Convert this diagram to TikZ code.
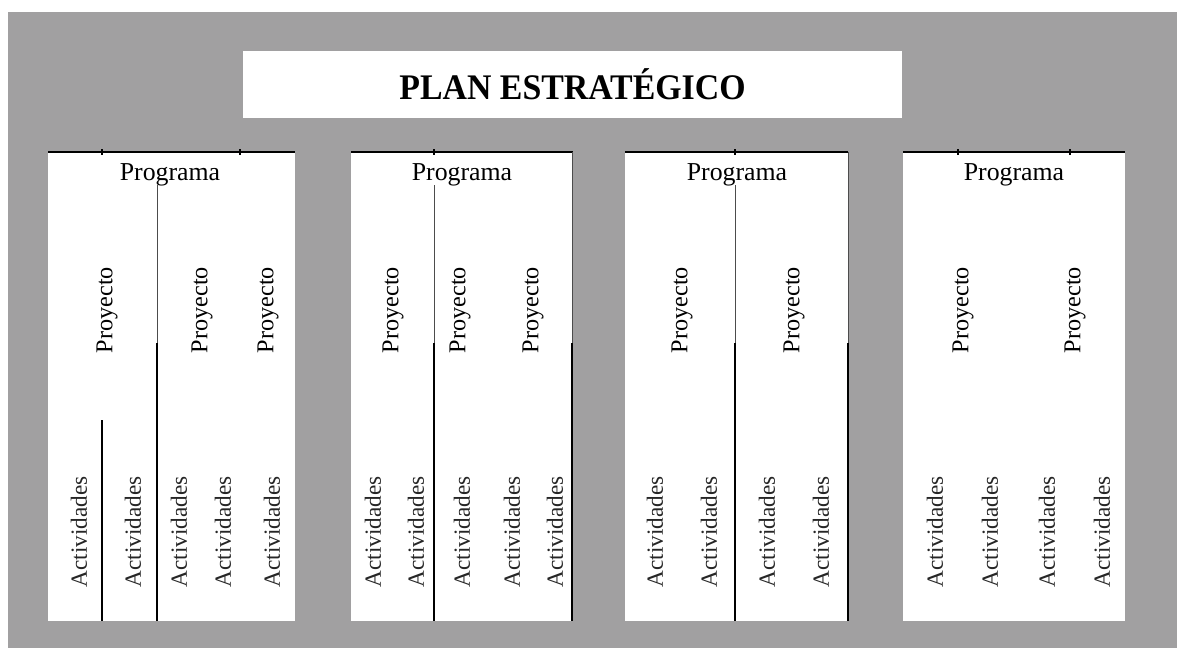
\documentclass[tikz,border=0pt]{standalone}
\usepackage{fontspec}
\setmainfont{Liberation Serif}
\usetikzlibrary{positioning}
\definecolor{fondo}{RGB}{161,160,161}

\begin{document}
\begin{tikzpicture}[
    x=0.5pt, y=-0.5pt,
    panel/.style ={fill=white},
    titulo/.style ={
        fill=white,
        minimum width=329.5pt,
        minimum height=33.5pt,
        font=\fontsize{18}{20}\bfseries\selectfont,
    },
    prog/.style ={anchor=base, inner sep=0pt, font=\fontsize{12.9}{14}\selectfont},
    proy/.style ={rotate=90, inner sep=0pt, font=\fontsize{12.1}{14}\selectfont},
    act/.style ={rotate=90, inner sep=0pt, text=black!85, font=\fontsize{11.6}{13}\selectfont},
    raya/.style ={line width=0.8pt},
    fina/.style ={line width=0.5pt, black!70},
    gruesa/.style ={line width=1.2pt},
    ]
    \fill[white] (0,0) rectangle (1177,648);
    \fill[fondo] (8,12) rectangle (1177,648);
    \node[titulo] (plan) at (572.5,84) {\scalebox{0.94}[1]{PLAN ESTRAT\'EGICO}};
    % programas
    \foreach \a/\b/\c [count=\i] in {48/295/170,351/573/462,625/848/737,903/1125/1014} {
        \fill[panel] (\a,152) rectangle (\b,621);
        \draw[raya] (\a,152) -- (\b,152);
        \node[prog] (prog\i) at (\c,180) {Programa};
    }
    \foreach \t in {102,240,434,735,958,1070}
        \draw[raya] (\t,149) -- (\t,155);
    % divisiones
    \foreach \x/\y in {157/185,434/185,735/185,572/152,848/152} {
        \draw[fina] (\x,\y) -- (\x,343);
        \draw[gruesa] (\x,343) -- (\x,621);
    }
    \draw[gruesa] (102,420) -- (102,621);
    % proyectos y actividades
    \foreach \x [count=\i] in {107,202,268,393,460,533,682,794,963,1075}
        \node[proy] (proy\i) at (\x,310) {Proyecto};
    \foreach \x [count=\i] in {79,133,179,223,272,373,416,462,512,555,655,709,767,821,935,990,1047,1102}
        \node[act] (act\i) at (\x,532) {Actividades};
\end{tikzpicture}
\end{document}
